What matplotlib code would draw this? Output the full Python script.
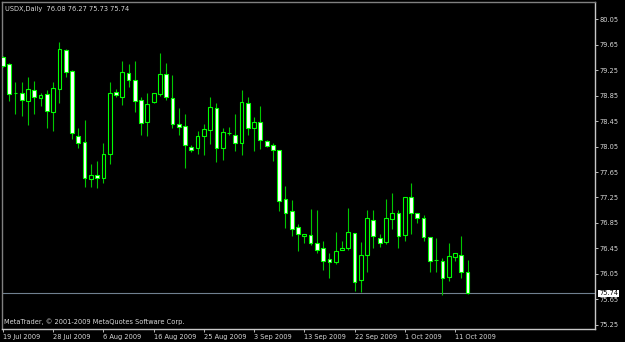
import matplotlib.pyplot as plt
import matplotlib.transforms as mtransforms
import numpy as np
import pandas as pd

# USDX daily, 19 Jul 2009 .. 13 Oct 2009 (MetaTrader, bars Sun-Fri)
symbol = "USDX,Daily"
opens = [79.46, 79.35, 78.89, 78.89, 78.77, 78.94, 78.81, 78.88, 78.60, 78.95,
         79.57, 79.24, 78.22, 78.12, 77.54, 77.60, 77.55, 77.93, 78.91, 78.83,
         79.21, 79.10, 78.78, 78.43, 78.75, 78.87, 79.20, 78.82, 78.41, 78.38,
         78.04, 78.03, 78.21, 78.31, 78.65, 78.03, 78.26, 78.24, 78.10, 78.73,
         78.35, 78.44, 78.14, 78.07, 77.99, 77.22, 77.04, 76.78, 76.64, 76.66,
         76.54, 76.45, 76.28, 76.24, 76.43, 76.45, 76.69, 75.95, 76.34, 76.89,
         76.61, 76.55, 76.91, 77.00, 76.66, 77.25, 77.01, 76.93, 76.62, 76.27,
         76.25, 76.00, 76.31, 76.35, 76.08]
highs = [79.48, 79.37, 79.06, 79.06, 79.15, 79.08, 78.90, 78.94, 79.06, 79.69,
         79.58, 79.25, 78.34, 78.47, 77.78, 77.82, 78.11, 79.06, 78.95, 79.39,
         79.35, 79.39, 78.83, 78.89, 78.90, 79.52, 79.36, 79.18, 78.65, 78.57,
         78.07, 78.30, 78.40, 78.83, 78.73, 78.35, 78.36, 78.57, 78.94, 78.83,
         78.52, 78.69, 78.15, 78.10, 78.00, 77.43, 77.21, 76.83, 76.67, 77.07,
         77.05, 76.56, 76.37, 76.70, 76.56, 77.08, 76.69, 76.55, 77.05, 77.05,
         76.67, 77.23, 77.32, 77.05, 77.25, 77.47, 77.01, 76.98, 76.62, 76.61,
         76.29, 76.54, 76.37, 76.64, 76.27]
lows = [79.31, 78.77, 78.56, 78.53, 78.39, 78.56, 78.69, 78.35, 78.30, 78.74,
        79.15, 78.17, 78.02, 77.41, 77.42, 77.40, 77.48, 77.77, 78.83, 78.71,
        78.99, 78.60, 78.23, 78.21, 78.73, 78.85, 78.78, 78.34, 78.23, 77.72,
        77.97, 77.93, 77.92, 78.09, 77.81, 77.84, 78.23, 77.98, 77.92, 78.23,
        77.98, 78.01, 78.04, 77.82, 77.03, 76.77, 76.65, 76.41, 76.54, 76.50,
        76.38, 76.11, 75.98, 76.20, 76.42, 76.42, 75.78, 75.77, 76.08, 76.46,
        76.47, 76.52, 76.76, 76.46, 76.57, 76.67, 76.85, 76.57, 76.08, 76.08,
        75.71, 75.93, 76.25, 75.98, 75.73]
closes = [79.32, 78.88, 78.89, 78.79, 78.95, 78.83, 78.86, 78.61, 78.97, 79.59,
          79.22, 78.27, 78.11, 77.56, 77.61, 77.56, 77.93, 78.89, 78.86, 79.22,
          79.10, 78.77, 78.42, 78.72, 78.89, 79.19, 78.83, 78.40, 78.36, 78.07,
          78.00, 78.21, 78.32, 78.67, 78.03, 78.28, 78.26, 78.10, 78.75, 78.35,
          78.43, 78.15, 78.06, 77.99, 77.20, 77.01, 76.76, 76.67, 76.67, 76.53,
          76.42, 76.25, 76.23, 76.41, 76.46, 76.70, 75.92, 76.35, 76.92, 76.64,
          76.53, 76.92, 77.00, 76.64, 77.25, 77.00, 76.93, 76.63, 76.25, 76.27,
          75.99, 76.33, 76.37, 76.07, 75.74]
price_ticks = [80.05, 79.65, 79.25, 78.85, 78.45, 78.05, 77.65, 77.25,
               76.85, 76.45, 76.05, 75.65, 75.25]
copyright = "MetaTrader, \u00a9 2001-2009 MetaQuotes Software Corp."

dates = pd.bdate_range("2009-07-19", periods=len(opens), freq="C",
                       weekmask="Sun Mon Tue Wed Thu Fri")

GREEN = "#00ff00"
WICK = "#00c800"
FG = "#d8d8d8"
FS = 4.8
plt.rcParams['font.family'] = ['DejaVu Sans']

fig = plt.figure(figsize=(6.25, 3.42), dpi=100, facecolor="black")
ax = fig.add_axes([2 / 625, 13 / 342, 593 / 625, 327 / 342], facecolor="black")

o = np.array(opens)
c = np.array(closes)
idx = np.arange(len(o))
bull = c >= o

ax.vlines(idx, lows, highs, color=WICK, lw=0.8, zorder=2)
ax.bar(idx, np.abs(c - o), bottom=np.minimum(o, c), width=0.6,
       color=np.where(bull, "black", "white"), edgecolor=GREEN,
       linewidth=0.8, zorder=3)

# last price line + marker
last = closes[-1]
ax.axhline(last, color="#708090", lw=0.8, zorder=1)
trans = mtransforms.blended_transform_factory(ax.transAxes, ax.transData)
ax.text(1.007, last, "%.2f" % last, transform=trans, ha="left", va="center",
        fontsize=FS, color="black", zorder=10, clip_on=False,
        bbox=dict(fc="white", ec="none", pad=0.6))

ax.set_xlim(-0.15, 94.3)
ax.set_ylim(75.18, 80.325)

ax.yaxis.tick_right()
ax.set_yticks(price_ticks)
ax.set_yticklabels(["%.2f" % p for p in price_ticks])
tick_pos = idx[::8]
ax.set_xticks(tick_pos)
ax.set_xticklabels([d.strftime("%-d %b %Y") for d in dates[tick_pos]], ha="left")
ax.tick_params(axis="both", colors=FG, labelsize=FS, length=2.5, width=0.6,
               pad=1)

for side in ["left", "top"]:
    ax.spines[side].set_color("#808080")
for side in ["right", "bottom"]:
    ax.spines[side].set_color("#c8c8c8")
for s in ax.spines.values():
    s.set_linewidth(1)

ax.text(0.005, 0.98, "%s  %.2f %.2f %.2f %.2f" % (symbol, opens[-1], highs[-1],
        lows[-1], closes[-1]), transform=ax.transAxes, ha="left", va="center",
        fontsize=FS, color=FG)
ax.text(0.004, 0.021, copyright, transform=ax.transAxes, ha="left",
        va="center", fontsize=FS, color=FG)

fig.savefig("out.png", dpi=100, facecolor="black")
